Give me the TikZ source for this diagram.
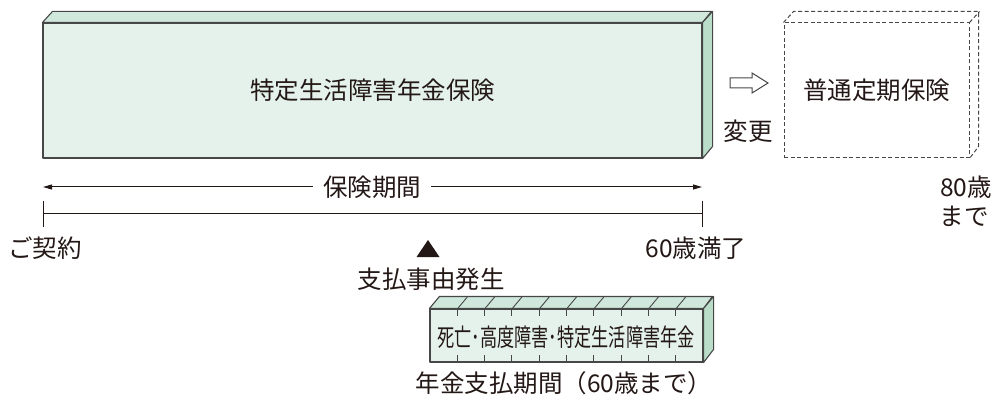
\documentclass[tikz,border=0pt]{standalone}
\usepackage{fontspec}
\setmainfont{Noto Sans CJK JP}
\usepackage{tikz}
\usepackage{xcolor}
\usetikzlibrary{arrows.meta}

\definecolor{txt}{HTML}{231815}
\definecolor{edge}{HTML}{474747}
\definecolor{front}{HTML}{E4F2EB}
\definecolor{top}{HTML}{D0E8DB}
\definecolor{side}{HTML}{B9DDC9}

\tikzset{
	lbl/.style={font=\fontsize{24.5}{26}\selectfont, text=txt, inner sep=0pt},
	face/.style={draw=edge, line width=1.1pt, line join=round},
	dashface/.style={draw=edge, line width=1pt, dash pattern=on 4pt off 2.5pt},
	line/.style={txt, line width=1pt}
}

\begin{document}
\begin{tikzpicture}[x=1pt,y=-1pt]
				\useasboundingbox (0,0) rectangle (998,398);
				
				% main box
				\node[face, fill=front, minimum width=659pt, minimum height=135pt, lbl] at (372.5,90.5) (main) {特定生活障害年金保険};
				\draw[face, fill=top] (main.north west) -- ++(10,-11) -- ++(659,0) -- (main.north east) -- cycle;
				\draw[face, fill=side] (main.north east) -- ++(10,-11) -- ++(0,135) -- (main.south east) -- cycle;
				
				% change
				\draw[edge, line width=1pt, fill=white] (730,78) -- (752,78) -- (752,73) -- (768,83) -- (752,93) -- (752,88) -- (730,88) -- cycle;
				\node[lbl] at (748,131) (chg) {変更};
				\node[dashface, minimum width=185pt, minimum height=135pt, lbl] at (876.5,90.5) (term) {普通定期保険};
				\draw[dashface] (term.north west) -- ++(10,-11) -- ++(185,0) -- ++(0,135) -- (term.south east);
				\draw[dashface] (term.north east) -- ++(10,-11);
				\node[lbl] at (966,187) (age80) {80歳};
				\node[lbl] at (964,216) (until) {まで};
				
				% period
				\coordinate (pl) at (43,187);
				\coordinate (pr) at (702,187);
				\draw[line, {Triangle[length=9pt,width=5pt]}-{Triangle[length=9pt,width=5pt]}] (pl) -- (pr);
				\node[lbl, fill=white, inner xsep=10pt] at (372,187) (period) {保険期間};
				
				\coordinate (tl) at (43,213);
				\coordinate (tr) at (702,213);
				\draw[line] (tl) -- (tr);
				\draw[line] (43,201) -- (43,227);
				\draw[line] (702,201) -- (702,227);
				\node[lbl] at (45,248) (start) {ご契約};
				\node[lbl] at (696,248) (end) {60歳満了};
				
				\fill[txt] (428,240) -- (439.5,257) -- (416.5,257) -- cycle;
				\node[lbl] at (431,279) (event) {支払事由発生};
				
				% pension
				\node[face, fill=front, minimum width=273pt, minimum height=53pt, lbl] at (566.5,335.5) (pension) {};
				\draw[face, fill=top] (pension.north west) -- ++(10,-12) -- ++(273,0) -- (pension.north east) -- cycle;
				\draw[face, fill=side] (pension.north east) -- ++(10,-12) -- ++(0,53) -- (pension.south east) -- cycle;
				\foreach \i in {1,...,9} {
					\draw[edge, line width=0.9pt] (430+27.3*\i,309) -- ++(10,-12);
					\draw[edge, line width=0.9pt] (430+27.3*\i,309) -- ++(0,7);
					\draw[edge, line width=0.9pt] (430+27.3*\i,362) -- ++(0,-7);
				}
				\node[lbl, fill=front, inner xsep=1pt, inner ysep=1pt] at (566,337) (kind) {\scalebox{0.7}[1]{死亡･高度障害･特定生活障害年金}};
				\node[lbl] at (564,383) (pay) {年金支払期間（60歳まで）};
\end{tikzpicture}
\end{document}
